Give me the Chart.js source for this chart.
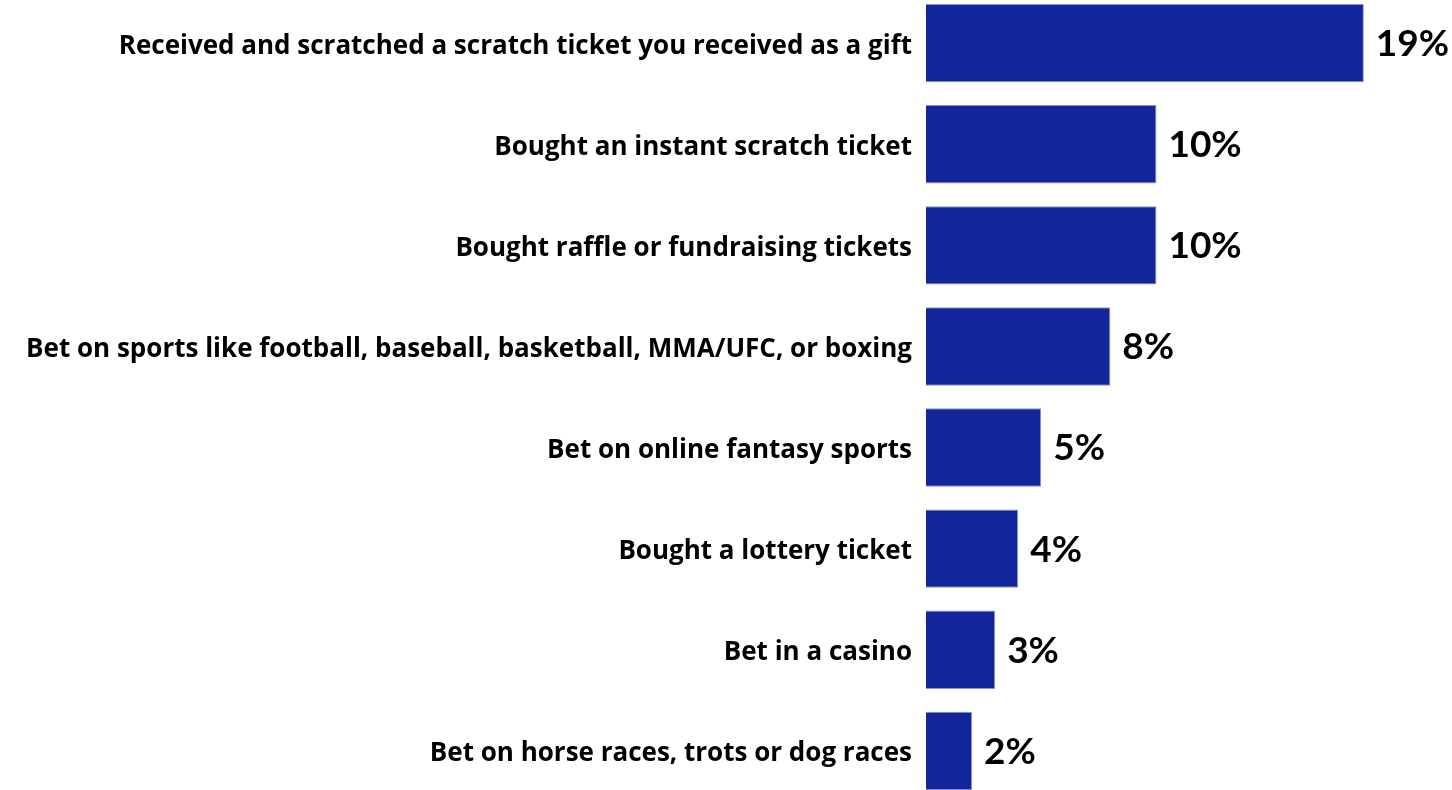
<!DOCTYPE html>
<html>
<head>
<meta charset="utf-8">
<script src="https://cdn.jsdelivr.net/npm/chart.js@4"></script>
<style>
    html, body { margin: 0; padding: 0; background: #ffffff; overflow: hidden; }
    #wrap { position: absolute; left: 0; top: -29px; width: 1452px; height: 852px; }
</style>
</head>
<body>
<div id="wrap"><canvas id="gambleChart"></canvas></div>
<script>
// chart data
var categories = [
    'Received and scratched a scratch ticket you received as a gift',
    'Bought an instant scratch ticket',
    'Bought raffle or fundraising tickets',
    'Bet on sports like football, baseball, basketball, MMA/UFC, or boxing',
    'Bet on online fantasy sports',
    'Bought a lottery ticket',
    'Bet in a casino',
    'Bet on horse races, trots or dog races'
]
var values = [19, 10, 10, 8, 5, 4, 3, 2]

// value labels at the end of each bar
var valueLabels = {
    id: 'valueLabels',
    afterDatasetsDraw: function (chart) {
        var ctx = chart.ctx
        var meta = chart.getDatasetMeta(0)
        ctx.save()
        ctx.font = 'bold 37px Lato'
        ctx.fillStyle = '#000000'
        ctx.textAlign = 'left'
        ctx.textBaseline = 'middle'
        meta.data.forEach(function (bar, i) {
            ctx.fillText(values[i] + '%', bar.x + 12, bar.y + 1)
        })
        ctx.restore()
    }
}

var ctx1 = document.getElementById('gambleChart')
var gambleChart = new Chart(ctx1, {
    type: 'bar',
    data: {
        labels: categories,
        datasets: [
            {
                data: values,
                backgroundColor: '#12259a',
                borderColor: '#8a93c8',
                borderWidth: 1,
                barPercentage: 0.775,
                categoryPercentage: 1
            }
        ]
    },
    options: {
        indexAxis: 'y',
        responsive: true,
        maintainAspectRatio: false,
        animation: false,
        layout: {
            padding: { left: 0, right: 19, top: 0, bottom: 0 }
        },
        plugins: {
            legend: { display: false },
            tooltip: { enabled: false }
        },
        scales: {
            x: {
                display: false,
                min: 0,
                max: 22
            },
            y: {
                grid: { display: false },
                border: { display: false },
                afterFit: function (scale) {
                    scale.width = 926
                },
                ticks: {
                    padding: 6,
                    labelOffset: 3,
                    color: '#000000',
                    font: { family: 'Open Sans', size: 26, weight: 'bold' }
                }
            }
        }
    },
    plugins: [valueLabels]
})
</script>
</body>
</html>
